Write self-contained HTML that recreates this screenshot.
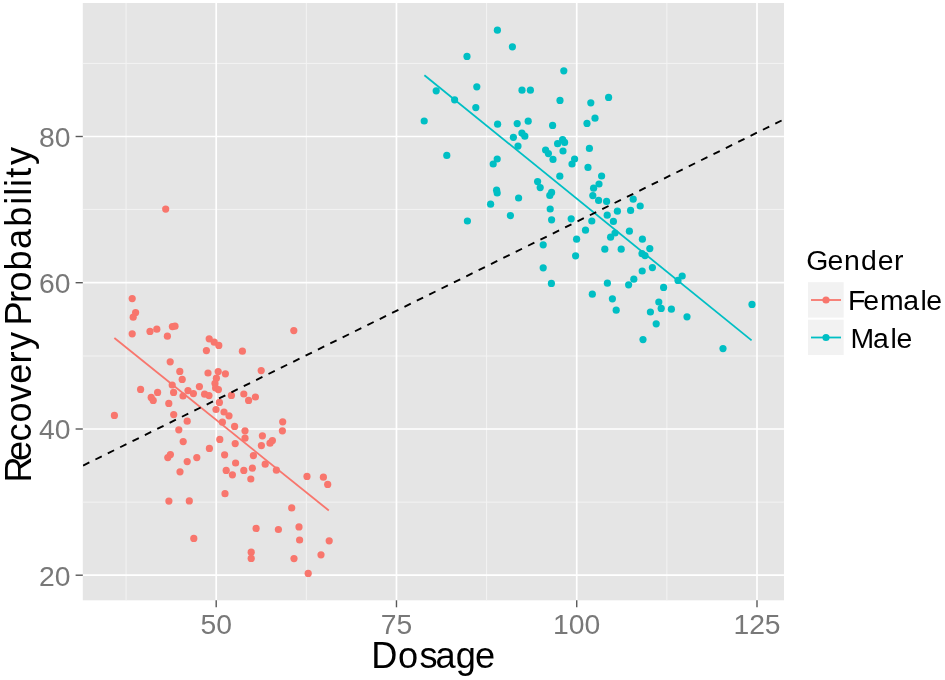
<!DOCTYPE html>
<html lang="en">
<head>
<meta charset="utf-8">
<title>Recovery Probability vs Dosage</title>
<style>
html,body{margin:0;padding:0;background:#fff;}
body{width:945px;height:680px;overflow:hidden;font-family:"Liberation Sans",sans-serif;}
svg{display:block;}
text{font-family:"Liberation Sans",sans-serif;}
.tick{fill:#787878;font-size:28.3px;}
.leg{fill:#000;font-size:28.4px;}
.ttl{fill:#000;font-size:36.2px;}
</style>
</head>
<body>
<svg width="945" height="680" viewBox="0 0 945 680">
<rect x="0" y="0" width="945" height="680" fill="#ffffff"/>
<rect x="82.8" y="3.0" width="701.2" height="597.3" fill="#e5e5e5"/>
<g stroke="#f3f3f3" stroke-width="1">
<line x1="126.07" y1="3.0" x2="126.07" y2="600.3"/>
<line x1="306.33" y1="3.0" x2="306.33" y2="600.3"/>
<line x1="486.6" y1="3.0" x2="486.6" y2="600.3"/>
<line x1="666.87" y1="3.0" x2="666.87" y2="600.3"/>
<line x1="82.8" y1="63.4" x2="783.95" y2="63.4"/>
<line x1="82.8" y1="209.4" x2="783.95" y2="209.4"/>
<line x1="82.8" y1="356.0" x2="783.95" y2="356.0"/>
<line x1="82.8" y1="502.1" x2="783.95" y2="502.1"/>
</g>
<g stroke="#ffffff" stroke-width="1.7">
<line x1="216.2" y1="3.0" x2="216.2" y2="600.3"/>
<line x1="396.47" y1="3.0" x2="396.47" y2="600.3"/>
<line x1="576.73" y1="3.0" x2="576.73" y2="600.3"/>
<line x1="757.0" y1="3.0" x2="757.0" y2="600.3"/>
<line x1="82.8" y1="575.2" x2="783.95" y2="575.2"/>
<line x1="82.8" y1="429.0" x2="783.95" y2="429.0"/>
<line x1="82.8" y1="282.7" x2="783.95" y2="282.7"/>
<line x1="82.8" y1="136.5" x2="783.95" y2="136.5"/>
</g>
<g stroke="#595959" stroke-width="1.4">
<line x1="216.2" y1="600.3" x2="216.2" y2="607.3"/>
<line x1="396.47" y1="600.3" x2="396.47" y2="607.3"/>
<line x1="576.73" y1="600.3" x2="576.73" y2="607.3"/>
<line x1="757.0" y1="600.3" x2="757.0" y2="607.3"/>
<line x1="75.6" y1="575.2" x2="82.8" y2="575.2"/>
<line x1="75.6" y1="429.0" x2="82.8" y2="429.0"/>
<line x1="75.6" y1="282.7" x2="82.8" y2="282.7"/>
<line x1="75.6" y1="136.5" x2="82.8" y2="136.5"/>
</g>
<clipPath id="pc"><rect x="82.8" y="3.0" width="701.2" height="597.3"/></clipPath>
<g clip-path="url(#pc)">
<g fill="#f8766d">
<circle cx="132.2" cy="298.6" r="3.6"/>
<circle cx="135.6" cy="312.6" r="3.6"/>
<circle cx="133.2" cy="317.2" r="3.6"/>
<circle cx="132.2" cy="333.8" r="3.6"/>
<circle cx="150" cy="331.4" r="3.6"/>
<circle cx="156.8" cy="329.2" r="3.6"/>
<circle cx="167.4" cy="336.2" r="3.6"/>
<circle cx="172.4" cy="326.6" r="3.6"/>
<circle cx="175" cy="326.2" r="3.6"/>
<circle cx="209.2" cy="338.8" r="3.6"/>
<circle cx="214.2" cy="342.2" r="3.6"/>
<circle cx="218.8" cy="345.4" r="3.6"/>
<circle cx="206.4" cy="350.6" r="3.6"/>
<circle cx="242.4" cy="351.2" r="3.6"/>
<circle cx="170.2" cy="361.8" r="3.6"/>
<circle cx="179.8" cy="371.4" r="3.6"/>
<circle cx="182.2" cy="379.4" r="3.6"/>
<circle cx="208" cy="373" r="3.6"/>
<circle cx="218.2" cy="371.6" r="3.6"/>
<circle cx="225.4" cy="373.8" r="3.6"/>
<circle cx="261.2" cy="370.6" r="3.6"/>
<circle cx="216.4" cy="378.2" r="3.6"/>
<circle cx="215" cy="383.4" r="3.6"/>
<circle cx="215.6" cy="388" r="3.6"/>
<circle cx="218.4" cy="389.6" r="3.6"/>
<circle cx="199.4" cy="386.6" r="3.6"/>
<circle cx="172.2" cy="385" r="3.6"/>
<circle cx="140.6" cy="389.4" r="3.6"/>
<circle cx="157.6" cy="392.4" r="3.6"/>
<circle cx="173.6" cy="392.4" r="3.6"/>
<circle cx="188" cy="390.6" r="3.6"/>
<circle cx="193.4" cy="393.6" r="3.6"/>
<circle cx="183" cy="396" r="3.6"/>
<circle cx="204.6" cy="394.2" r="3.6"/>
<circle cx="209" cy="395.6" r="3.6"/>
<circle cx="231.4" cy="395.4" r="3.6"/>
<circle cx="243.8" cy="394" r="3.6"/>
<circle cx="255.4" cy="397" r="3.6"/>
<circle cx="248.6" cy="400.4" r="3.6"/>
<circle cx="151.2" cy="397.4" r="3.6"/>
<circle cx="153.2" cy="400.4" r="3.6"/>
<circle cx="168.8" cy="403.4" r="3.6"/>
<circle cx="219.4" cy="402.4" r="3.6"/>
<circle cx="216" cy="409.5" r="3.6"/>
<circle cx="224" cy="412" r="3.6"/>
<circle cx="229" cy="415.8" r="3.6"/>
<circle cx="173.7" cy="414.6" r="3.6"/>
<circle cx="114.4" cy="415.4" r="3.6"/>
<circle cx="187.2" cy="421.2" r="3.6"/>
<circle cx="222.4" cy="422.2" r="3.6"/>
<circle cx="234.6" cy="426.4" r="3.6"/>
<circle cx="282.7" cy="421.8" r="3.6"/>
<circle cx="178.8" cy="429.8" r="3.6"/>
<circle cx="245" cy="430.8" r="3.6"/>
<circle cx="282.4" cy="430.8" r="3.6"/>
<circle cx="262.4" cy="435.8" r="3.6"/>
<circle cx="245" cy="438.2" r="3.6"/>
<circle cx="219.8" cy="439.4" r="3.6"/>
<circle cx="183.2" cy="441.6" r="3.6"/>
<circle cx="235.2" cy="443.6" r="3.6"/>
<circle cx="272.4" cy="440.6" r="3.6"/>
<circle cx="270" cy="443.2" r="3.6"/>
<circle cx="261.4" cy="445.6" r="3.6"/>
<circle cx="209.4" cy="448.4" r="3.6"/>
<circle cx="170.4" cy="454.6" r="3.6"/>
<circle cx="167.8" cy="457.6" r="3.6"/>
<circle cx="196.8" cy="457.6" r="3.6"/>
<circle cx="224.6" cy="454.8" r="3.6"/>
<circle cx="253.4" cy="455.6" r="3.6"/>
<circle cx="187.2" cy="461.6" r="3.6"/>
<circle cx="235.6" cy="463" r="3.6"/>
<circle cx="265.2" cy="464.2" r="3.6"/>
<circle cx="252.4" cy="468.2" r="3.6"/>
<circle cx="226.2" cy="470.4" r="3.6"/>
<circle cx="243.8" cy="470.4" r="3.6"/>
<circle cx="276.4" cy="470.2" r="3.6"/>
<circle cx="180" cy="471.8" r="3.6"/>
<circle cx="232.4" cy="474.8" r="3.6"/>
<circle cx="250.8" cy="479" r="3.6"/>
<circle cx="225" cy="493.7" r="3.6"/>
<circle cx="168.9" cy="501.1" r="3.6"/>
<circle cx="189.3" cy="500.9" r="3.6"/>
<circle cx="256.1" cy="528.4" r="3.6"/>
<circle cx="278.4" cy="529.5" r="3.6"/>
<circle cx="193.8" cy="538.4" r="3.6"/>
<circle cx="291.7" cy="507.9" r="3.6"/>
<circle cx="307" cy="476.4" r="3.6"/>
<circle cx="323.4" cy="477.2" r="3.6"/>
<circle cx="327.7" cy="484.4" r="3.6"/>
<circle cx="299" cy="526.9" r="3.6"/>
<circle cx="299.6" cy="540" r="3.6"/>
<circle cx="329.2" cy="540.8" r="3.6"/>
<circle cx="251.2" cy="552.2" r="3.6"/>
<circle cx="251.2" cy="558.4" r="3.6"/>
<circle cx="294" cy="558.6" r="3.6"/>
<circle cx="321" cy="554.8" r="3.6"/>
<circle cx="308.2" cy="573.4" r="3.6"/>
<circle cx="293.8" cy="330.6" r="3.6"/>
<circle cx="165.7" cy="209.1" r="3.6"/>
</g>
<g fill="#00bfc4">
<circle cx="497.4" cy="30.2" r="3.6"/>
<circle cx="512.4" cy="46.8" r="3.6"/>
<circle cx="467" cy="56.4" r="3.6"/>
<circle cx="563.8" cy="70.8" r="3.6"/>
<circle cx="476.8" cy="86.8" r="3.6"/>
<circle cx="436.2" cy="90.8" r="3.6"/>
<circle cx="522" cy="90.2" r="3.6"/>
<circle cx="530.4" cy="90.2" r="3.6"/>
<circle cx="454.6" cy="99.8" r="3.6"/>
<circle cx="475.8" cy="107.6" r="3.6"/>
<circle cx="560" cy="100.4" r="3.6"/>
<circle cx="590.8" cy="102.8" r="3.6"/>
<circle cx="424.2" cy="121" r="3.6"/>
<circle cx="497.6" cy="124.2" r="3.6"/>
<circle cx="517.2" cy="123.6" r="3.6"/>
<circle cx="528.2" cy="121.2" r="3.6"/>
<circle cx="552.6" cy="125.4" r="3.6"/>
<circle cx="595" cy="118.2" r="3.6"/>
<circle cx="587" cy="123.4" r="3.6"/>
<circle cx="521.9" cy="133.1" r="3.6"/>
<circle cx="524.8" cy="136.2" r="3.6"/>
<circle cx="513.4" cy="137.3" r="3.6"/>
<circle cx="562.6" cy="139.7" r="3.6"/>
<circle cx="564.6" cy="142.4" r="3.6"/>
<circle cx="557.6" cy="143.7" r="3.6"/>
<circle cx="518" cy="146.1" r="3.6"/>
<circle cx="589.4" cy="148.4" r="3.6"/>
<circle cx="446.8" cy="155.4" r="3.6"/>
<circle cx="563" cy="151" r="3.6"/>
<circle cx="545.6" cy="150" r="3.6"/>
<circle cx="548.4" cy="153.6" r="3.6"/>
<circle cx="553" cy="159.4" r="3.6"/>
<circle cx="497.2" cy="159" r="3.6"/>
<circle cx="493.2" cy="164" r="3.6"/>
<circle cx="574.6" cy="159" r="3.6"/>
<circle cx="572" cy="164" r="3.6"/>
<circle cx="588" cy="167.4" r="3.6"/>
<circle cx="559.8" cy="176.2" r="3.6"/>
<circle cx="537.6" cy="181.6" r="3.6"/>
<circle cx="540.2" cy="187.6" r="3.6"/>
<circle cx="496.6" cy="190.2" r="3.6"/>
<circle cx="497.2" cy="193" r="3.6"/>
<circle cx="551.6" cy="192.4" r="3.6"/>
<circle cx="549.8" cy="195.4" r="3.6"/>
<circle cx="518.6" cy="198" r="3.6"/>
<circle cx="490.6" cy="204.2" r="3.6"/>
<circle cx="593.6" cy="188.2" r="3.6"/>
<circle cx="592.8" cy="195.6" r="3.6"/>
<circle cx="599" cy="184" r="3.6"/>
<circle cx="598.6" cy="200.4" r="3.6"/>
<circle cx="601.6" cy="176" r="3.6"/>
<circle cx="550.2" cy="209" r="3.6"/>
<circle cx="510.4" cy="215.6" r="3.6"/>
<circle cx="467.4" cy="221" r="3.6"/>
<circle cx="551.6" cy="219.8" r="3.6"/>
<circle cx="571.2" cy="218.8" r="3.6"/>
<circle cx="591.8" cy="221" r="3.6"/>
<circle cx="585.5" cy="230.2" r="3.6"/>
<circle cx="576.6" cy="239.2" r="3.6"/>
<circle cx="543.2" cy="244.8" r="3.6"/>
<circle cx="575.6" cy="255.8" r="3.6"/>
<circle cx="543.2" cy="267.8" r="3.6"/>
<circle cx="606.6" cy="201.4" r="3.6"/>
<circle cx="633.2" cy="199.2" r="3.6"/>
<circle cx="640.2" cy="206" r="3.6"/>
<circle cx="617.4" cy="211.2" r="3.6"/>
<circle cx="630.6" cy="210.4" r="3.6"/>
<circle cx="607.2" cy="215.2" r="3.6"/>
<circle cx="613.4" cy="221.4" r="3.6"/>
<circle cx="629.4" cy="231.2" r="3.6"/>
<circle cx="615" cy="233" r="3.6"/>
<circle cx="610.6" cy="237.2" r="3.6"/>
<circle cx="642.4" cy="239.2" r="3.6"/>
<circle cx="604.8" cy="249.2" r="3.6"/>
<circle cx="621.2" cy="249.2" r="3.6"/>
<circle cx="649.8" cy="248.6" r="3.6"/>
<circle cx="642" cy="253.6" r="3.6"/>
<circle cx="645" cy="255.6" r="3.6"/>
<circle cx="652.4" cy="267.6" r="3.6"/>
<circle cx="608.6" cy="97.4" r="3.6"/>
<circle cx="642.2" cy="271" r="3.6"/>
<circle cx="633.8" cy="279.2" r="3.6"/>
<circle cx="628.6" cy="284.8" r="3.6"/>
<circle cx="607.4" cy="283.2" r="3.6"/>
<circle cx="682.2" cy="276" r="3.6"/>
<circle cx="678" cy="280.4" r="3.6"/>
<circle cx="663.6" cy="287.4" r="3.6"/>
<circle cx="592.3" cy="294.2" r="3.6"/>
<circle cx="612.4" cy="298.8" r="3.6"/>
<circle cx="658.8" cy="302" r="3.6"/>
<circle cx="661.2" cy="308.4" r="3.6"/>
<circle cx="671.4" cy="309.2" r="3.6"/>
<circle cx="616.2" cy="310.2" r="3.6"/>
<circle cx="650.4" cy="312" r="3.6"/>
<circle cx="687" cy="316.8" r="3.6"/>
<circle cx="656.2" cy="323.8" r="3.6"/>
<circle cx="643" cy="339.6" r="3.6"/>
<circle cx="752" cy="304.4" r="3.6"/>
<circle cx="723" cy="348.6" r="3.6"/>
<circle cx="551.4" cy="283.4" r="3.6"/>
</g>
<line x1="114.4" y1="338" x2="328.8" y2="510.5" stroke="#f8766d" stroke-width="1.8"/>
<line x1="424.4" y1="75.2" x2="751.6" y2="340.4" stroke="#00bfc4" stroke-width="1.8"/>
<line x1="78.0" y1="468.09" x2="790.0" y2="116.36" stroke="#000" stroke-width="1.9" stroke-dasharray="7.05 6.737" stroke-dashoffset="8.137"/>
</g>
<text class="tick" x="216.2" y="633.7" text-anchor="middle">50</text>
<text class="tick" x="396.47" y="633.7" text-anchor="middle">75</text>
<text class="tick" x="576.73" y="633.7" text-anchor="middle">100</text>
<text class="tick" x="757.0" y="633.7" text-anchor="middle">125</text>
<text class="tick" x="70.6" y="585.6" text-anchor="end">20</text>
<text class="tick" x="70.6" y="439.4" text-anchor="end">40</text>
<text class="tick" x="70.6" y="293.1" text-anchor="end">60</text>
<text class="tick" x="70.6" y="146.9" text-anchor="end">80</text>
<text class="ttl" x="371.3 398.0 419.6 435.4 455.7 475.1" y="667.5">Dosage</text>
<text class="ttl" transform="translate(30.6,477.8) rotate(-90)" x="-4.7 16.8 36.3 55.3 75.9 94.0 114.4 127.8 140.1 152.4 174.9 186.3 207.3 228.9 251.0 273.1 282.0 290.8 300.0 312.9">Recovery Probability</text>
<text class="leg" x="806.2 827.6 844.0 860.9 877.8 893.9" y="270.3">Gender</text>
<rect x="808" y="282.2" width="35.7" height="35.4" fill="#f2f2f2"/>
<rect x="808" y="319.7" width="35.7" height="35.3" fill="#f2f2f2"/>
<line x1="811" y1="300" x2="841" y2="300" stroke="#f8766d" stroke-width="1.8"/><circle cx="826" cy="300" r="3.6" fill="#f8766d"/>
<line x1="811" y1="337.5" x2="841" y2="337.5" stroke="#00bfc4" stroke-width="1.8"/><circle cx="826" cy="337.5" r="3.6" fill="#00bfc4"/>
<text class="leg" x="848.0 863.2 879.9 903.3 920.6 926.3" y="310">Female</text>
<text class="leg" x="850.5 873.1 890.5 896.6" y="348">Male</text>
</svg>
</body>
</html>
